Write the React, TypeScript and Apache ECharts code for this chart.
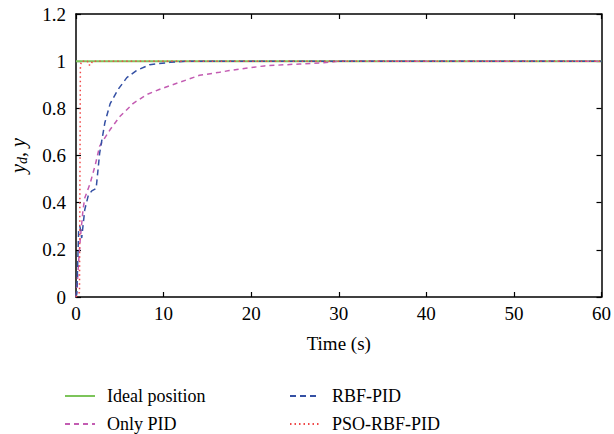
import React, { useEffect, useRef } from "react";
import * as echarts from "echarts";

const idealT = [0, 60];
const idealY = [1, 1];

const pidT = [0, 0.1, 0.3, 0.5, 0.8, 1.0, 1.6, 2.2, 2.7, 3.9, 5.0, 6.5, 8.0, 9.5, 11.8, 14.1, 16.4, 17.5, 19.8, 21.5, 25.5, 28.3, 30, 60];
const pidY = [0, 0.03, 0.15, 0.25, 0.37, 0.42, 0.48, 0.56, 0.64, 0.71, 0.765, 0.82, 0.857, 0.88, 0.91, 0.94, 0.953, 0.96, 0.972, 0.98, 0.988, 0.993, 1.0, 1.0];

const rbfT = [0, 0.1, 0.3, 0.45, 0.65, 1.0, 1.4, 1.8, 2.3, 2.7, 3.3, 3.9, 4.8, 5.8, 6.9, 8.4, 10.7, 12.6, 60];
const rbfY = [0, 0.02, 0.28, 0.3, 0.25, 0.37, 0.43, 0.45, 0.46, 0.61, 0.74, 0.82, 0.88, 0.93, 0.96, 0.985, 0.995, 1.0, 1.0];

const psoT = [0, 0.4, 0.45, 0.5, 0.6, 1.3, 1.4, 1.75, 1.85, 60];
const psoY = [0, 0.02, 0.5, 0.97, 1.0, 1.0, 0.984, 0.984, 1.0, 1.0];

const xTicks = [0, 10, 20, 30, 40, 50, 60];
const yTicks = [0, 0.2, 0.4, 0.6, 0.8, 1, 1.2];

const zip = (t: number[], y: number[]) => t.map((v, i) => [v, y[i]]);

export default function App() {
  const ref = useRef<HTMLDivElement>(null);
  useEffect(() => {
    if (!ref.current) return;
    const chart = echarts.init(ref.current, undefined, { renderer: "svg" });
    const font = "'Liberation Serif', 'Times New Roman', serif";
    const axisLine = { show: true, onZero: false, lineStyle: { color: "#000", width: 1.5 } };
    const tick = { show: true, inside: true, length: 5, lineStyle: { color: "#000", width: 1.2 } };
    const xBase = { type: "value", min: xTicks[0], max: xTicks[xTicks.length - 1], interval: 10, splitLine: { show: false } };
    const yBase = { type: "value", min: yTicks[0], max: yTicks[yTicks.length - 1], interval: 0.2, splitLine: { show: false } };
    const legendText = { fontSize: 18, fontFamily: font, color: "#000", lineHeight: 16, padding: [0, 0, 0, 7] };
    chart.setOption({
      animation: false,
      textStyle: { fontFamily: font },
      grid: { left: 76, right: 10, top: 14, bottom: 137 },
      xAxis: [
        {
          ...xBase,
          position: "bottom",
          axisLine,
          axisTick: tick,
          axisLabel: { color: "#000", fontSize: 19, fontFamily: font, margin: 7 },
          name: "Time (s)",
          nameLocation: "middle",
          nameGap: 37,
          nameTextStyle: { color: "#000", fontSize: 19, fontFamily: font },
        },
        { ...xBase, position: "top", axisLine, axisTick: tick, axisLabel: { show: false } },
      ],
      yAxis: [
        {
          ...yBase,
          position: "left",
          axisLine,
          axisTick: tick,
          axisLabel: {
            color: "#000",
            fontSize: 19,
            fontFamily: font,
            margin: 10,
            formatter: (v: number) => String(Math.round(v * 10) / 10),
          },
          name: "{i|y}{s|d}{i|, y}",
          nameLocation: "middle",
          nameGap: 47,
          nameRotate: 90,
          nameTextStyle: {
            rich: {
              i: { fontStyle: "italic", fontSize: 20, fontFamily: font, color: "#000" },
              s: { fontStyle: "italic", fontSize: 14, fontFamily: font, color: "#000", verticalAlign: "bottom", padding: [8, 0, 0, 0] },
            },
          },
        },
        { ...yBase, position: "right", axisLine, axisTick: tick, axisLabel: { show: false } },
      ],
      legend: [
        {
          data: ["Ideal position", "Only PID"],
          orient: "vertical",
          left: 64,
          top: 387,
          padding: 0,
          itemWidth: 30,
          itemHeight: 14,
          itemGap: 10,
          itemStyle: { opacity: 0 },
          textStyle: legendText,
        },
        {
          data: ["RBF-PID", "PSO-RBF-PID"],
          orient: "vertical",
          left: 289,
          top: 387,
          padding: 0,
          itemWidth: 30,
          itemHeight: 14,
          itemGap: 10,
          itemStyle: { opacity: 0 },
          textStyle: legendText,
        },
      ],
      series: [
        {
          name: "Ideal position",
          type: "line",
          data: zip(idealT, idealY),
          symbol: "none",
          lineStyle: { color: "#7cc45a", width: 2, type: "solid" },
          itemStyle: { color: "#7cc45a" },
        },
        {
          name: "Only PID",
          type: "line",
          data: zip(pidT, pidY),
          symbol: "none",
          lineStyle: { color: "#c35cb2", width: 1.5, type: [5, 4] },
          itemStyle: { color: "#c35cb2" },
        },
        {
          name: "RBF-PID",
          type: "line",
          data: zip(rbfT, rbfY),
          symbol: "none",
          lineStyle: { color: "#3450a4", width: 1.5, type: [6, 4] },
          itemStyle: { color: "#3450a4" },
        },
        {
          name: "PSO-RBF-PID",
          type: "line",
          data: zip(psoT, psoY),
          symbol: "none",
          lineStyle: { color: "#f04848", width: 1.5, type: [1.5, 3] },
          itemStyle: { color: "#f04848" },
        },
      ],
    });
    return () => chart.dispose();
  }, []);
  return <div ref={ref} style={{ width: 614, height: 434, position: "absolute", left: 0, top: 0, background: "#fff" }} />;
}
